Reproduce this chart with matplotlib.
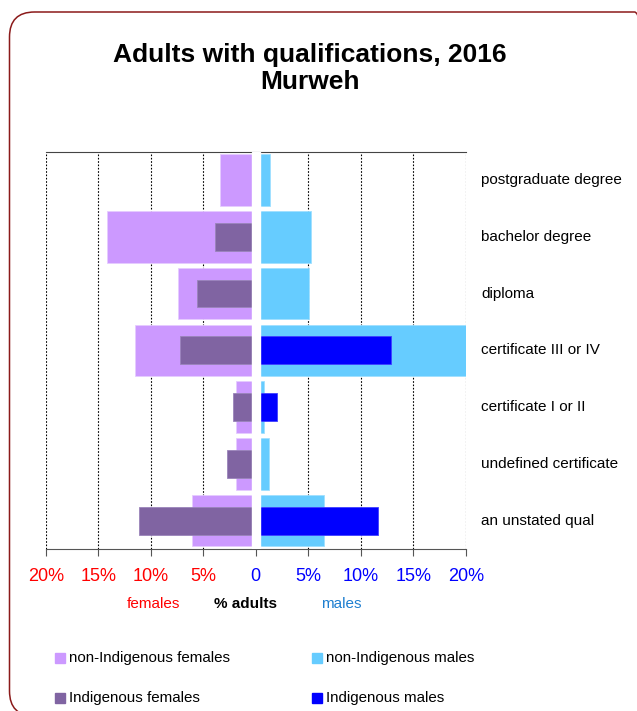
import matplotlib
matplotlib.use('Agg')
import matplotlib.pyplot as plt
from matplotlib.patches import FancyBboxPatch, Rectangle
from matplotlib.transforms import blended_transform_factory, IdentityTransform

plt.rcParams['font.family'] = ['Liberation Sans', 'DejaVu Sans']

categories = ['postgraduate degree', 'bachelor degree', 'diploma',
              'certificate III or IV', 'certificate I or II',
              'undefined certificate', 'an unstated qual']

# % of adults, by qualification
fem_non_indig = [3.4, 14.2, 7.4, 11.5, 1.9, 1.9, 6.1]
fem_indig = [0.0, 3.9, 5.6, 7.2, 2.2, 2.7, 11.1]
male_non_indig = [1.4, 5.3, 5.1, 22.0, 0.8, 1.3, 6.5]
male_indig = [0.0, 0.0, 0.0, 12.9, 2.0, 0.0, 11.6]

ticks = [-20, -15, -10, -5, 0, 5, 10, 15, 20]
tick_labels = ['20%', '15%', '10%', '5%', '0', '5%', '10%', '15%', '20%']

c_fni = '#CC99FF'
c_fi = '#8064A2'
c_mni = '#66CCFF'
c_mi = '#0000FF'

W, H = 637, 711
fig = plt.figure(figsize=(W / 100, H / 100), dpi=100)

# rounded outer frame, in pixels (origin bottom left)
frame = FancyBboxPatch((9.5, -5), 650, 704,
                       boxstyle='round,pad=0,rounding_size=25',
                       transform=IdentityTransform(), fill=False,
                       edgecolor='#8B1A1A', linewidth=1.1)
fig.add_artist(frame)

fig.text(310 / W, 1 - 61.7 / H, 'Adults with qualifications, 2016',
         ha='center', va='baseline', fontsize=19, fontweight='bold')
fig.text(310 / W, 1 - 89.3 / H, 'Murweh', ha='center', va='baseline',
         fontsize=19, fontweight='bold')

ax = fig.add_axes([45.7 / W, 1 - 549 / H, 420 / W, 397.3 / H])
y = list(range(len(categories)))

ax.barh(y, [-v for v in fem_non_indig], height=0.91, color=c_fni,
        edgecolor='#E6CCFF', linewidth=0.6, zorder=2)
ax.barh(y, [-v for v in fem_indig], height=0.49, color=c_fi,
        edgecolor='#9A84BA', linewidth=0.6, zorder=3)
ax.barh(y, male_non_indig, height=0.91, color=c_mni,
        edgecolor='#A0E0FF', linewidth=0.6, zorder=2)
ax.barh(y, male_indig, height=0.49, color=c_mi,
        edgecolor='#4040FF', linewidth=0.6, zorder=3)

# white gap between the female and male halves
ax.axvspan(-0.35, 0.42, color='white', zorder=4)

ax.set_xlim(-20, 20)
ax.set_ylim(len(categories) - 0.5, -0.5)
ax.set_xticks(ticks)
ax.set_xticklabels(tick_labels, fontsize=13)
for lab, t in zip(ax.get_xticklabels(), ticks):
    lab.set_color('#FF0000' if t < 0 else '#0000FF')
ax.tick_params(axis='x', direction='out', length=5, width=0.8,
               color='#555555', pad=9)
ax.set_yticks([])

for t in [-20, -15, -10, -5, 5, 10, 15, 20]:
    ax.axvline(t, color='black', linestyle=(0, (1.5, 1.5)), linewidth=0.8,
               zorder=1)

ax.spines['left'].set_visible(False)
ax.spines['right'].set_visible(False)
ax.spines['top'].set_color('#444444')
ax.spines['top'].set_linewidth(0.8)
ax.spines['bottom'].set_color('#555555')
ax.spines['bottom'].set_linewidth(0.8)

# category names to the right of the plot
label_tr = blended_transform_factory(fig.transFigure, ax.transData)
for i, name in enumerate(categories):
    ax.text(481 / W, i, name, transform=label_tr, fontsize=11,
            va='center', ha='left')

fig.text(153 / W, 1 - 604 / H, 'females', color='#FF0000', fontsize=11,
         ha='center', va='center')
fig.text(246 / W, 1 - 604 / H, '% adults', color='black', fontsize=11,
         fontweight='bold', ha='center', va='center')
fig.text(341 / W, 1 - 604 / H, 'males', color='#1E7FD0', fontsize=11,
         ha='center', va='center')

legend_items = [
    (55, 658, c_fni, 'non-Indigenous females'),
    (311.7, 658, c_mni, 'non-Indigenous males'),
    (55, 698, c_fi, 'Indigenous females'),
    (311.7, 698, c_mi, 'Indigenous males'),
]
for lx, ly, col, label in legend_items:
    fig.add_artist(Rectangle((lx / W, 1 - (ly + 5) / H), 10 / W, 10 / H,
                             transform=fig.transFigure, color=col))
    fig.text((lx + 14) / W, 1 - ly / H, label, fontsize=10.9,
             ha='left', va='center')

fig.savefig('out.png', dpi=100)
